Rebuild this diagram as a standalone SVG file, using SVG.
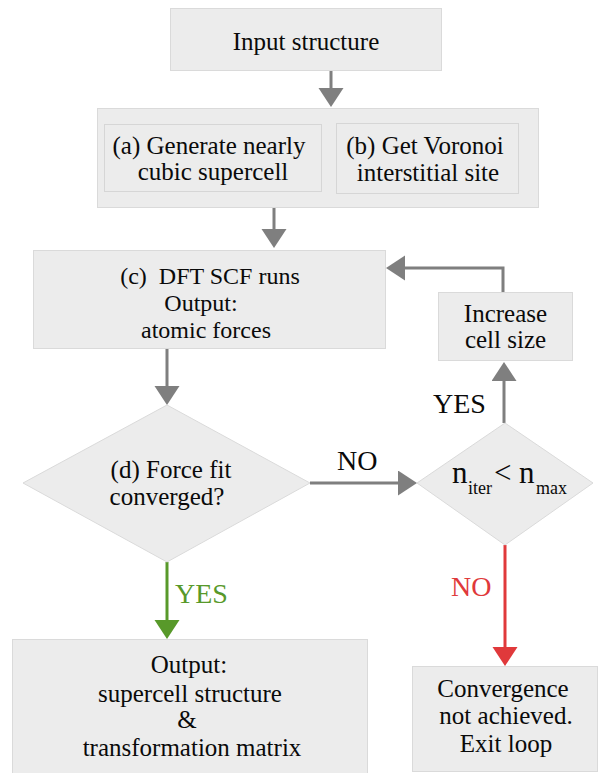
<svg xmlns="http://www.w3.org/2000/svg" width="600" height="773" viewBox="0 0 600 773">
  <style>
    .box { fill: #ececec; stroke: #dadada; stroke-width: 1; }
    .inner { fill: #ececec; stroke: #d6d6d6; stroke-width: 1; }
    .lbl { font-family: 'Liberation Serif', 'Times New Roman', serif; font-size: 25px; fill: #0a0a0a; text-anchor: middle; }
    .tight { font-size: 24px; }
    .edge { fill: none; stroke-width: 3; }
    .gray { stroke: #7f7f7f; }
    .green { stroke: #58992a; }
    .red { stroke: #e0393b; }
    .yn { font-family: 'Liberation Serif', 'Times New Roman', serif; font-size: 28px; }
  </style>
  <defs>
    <marker id="headGray" markerUnits="userSpaceOnUse" markerWidth="20" markerHeight="26" refX="0" refY="12.5" orient="auto" viewBox="0 0 20 26">
      <path d="M0,0 L19,12.5 L0,25 Z" fill="#7f7f7f"/>
    </marker>
    <marker id="headGreen" markerUnits="userSpaceOnUse" markerWidth="20" markerHeight="26" refX="0" refY="12.5" orient="auto" viewBox="0 0 20 26">
      <path d="M0,0 L19,12.5 L0,25 Z" fill="#58992a"/>
    </marker>
    <marker id="headRed" markerUnits="userSpaceOnUse" markerWidth="20" markerHeight="26" refX="0" refY="12.5" orient="auto" viewBox="0 0 20 26">
      <path d="M0,0 L19,12.5 L0,25 Z" fill="#e0393b"/>
    </marker>
  </defs>

  <rect width="600" height="773" fill="#ffffff"/>

  <!-- connectors and their branch labels -->
  <g id="connectors">
    <path class="edge gray" d="M331,71 V88" marker-end="url(#headGray)"/>
    <path class="edge gray" d="M274,208 V229" marker-end="url(#headGray)"/>
    <path class="edge gray" d="M167,349 V386" marker-end="url(#headGray)"/>
    <path class="edge gray" d="M310,483 H398" marker-end="url(#headGray)"/>
    <path class="edge gray" d="M504,423 V381" marker-end="url(#headGray)"/>
    <path class="edge gray" d="M503,292 V268 H405" marker-end="url(#headGray)"/>
    <path class="edge green" d="M167,562 V620" marker-end="url(#headGreen)"/>
    <path class="edge red" d="M505,545 V647" marker-end="url(#headRed)"/>
    <text class="yn" x="337" y="470" fill="#0a0a0a">NO</text>
    <text class="yn" x="433" y="413" fill="#0a0a0a">YES</text>
    <text class="yn" x="175" y="603" fill="#58992a">YES</text>
    <text class="yn" x="451" y="596" fill="#e0393b">NO</text>
  </g>

  <g id="input">
    <rect class="box" x="170.5" y="8.5" width="271" height="62"/>
    <text class="lbl" x="306" y="50">Input structure</text>
  </g>

  <g id="setup">
    <rect class="box" x="97.5" y="108.5" width="441" height="99"/>
    <g id="supercell">
      <rect class="inner" x="104.5" y="124.5" width="217" height="67"/>
      <text class="lbl" x="209" y="154">(a) Generate nearly</text>
      <text class="lbl" x="213" y="180">cubic supercell</text>
    </g>
    <g id="voronoi">
      <rect class="inner" x="336.5" y="123.5" width="182" height="70"/>
      <text class="lbl" x="425" y="154">(b) Get Voronoi</text>
      <text class="lbl" x="428" y="181">interstitial site</text>
    </g>
  </g>

  <g id="dft">
    <rect class="box" x="33.5" y="250.5" width="352" height="98"/>
    <text class="lbl tight" x="210" y="284" xml:space="preserve">(c)  DFT SCF runs</text>
    <text class="lbl tight" x="201" y="311">Output:</text>
    <text class="lbl tight" x="206" y="338">atomic forces</text>
  </g>

  <g id="increase">
    <rect class="box" x="438.5" y="292.5" width="134" height="68"/>
    <text class="lbl" x="505.5" y="322">Increase</text>
    <text class="lbl" x="505.5" y="348">cell size</text>
  </g>

  <g id="forcefit">
    <polygon class="box" points="167,405 310,483 167,562 23,483"/>
    <text class="lbl" x="171" y="478">(d) Force fit</text>
    <text class="lbl" x="167" y="505">converged?</text>
  </g>

  <g id="iterations">
    <polygon class="box" points="505,423 593,483 505,545 417,483"/>
    <text style="font-family: 'Liberation Serif', 'Times New Roman', serif;" fill="#0a0a0a">
      <tspan x="452" y="483" font-size="31">n</tspan><tspan x="468" y="494" font-size="18">iter</tspan><tspan x="494" y="483" font-size="31">&lt;</tspan><tspan x="519" y="483" font-size="31">n</tspan><tspan x="536" y="494" font-size="18">max</tspan>
    </text>
  </g>

  <g id="result">
    <rect class="box" x="12.5" y="639.5" width="355" height="150"/>
    <text class="lbl" x="189" y="673">Output:</text>
    <text class="lbl" x="190" y="702">supercell structure</text>
    <text class="lbl" x="187" y="728">&amp;</text>
    <text class="lbl" x="192" y="756">transformation matrix</text>
  </g>

  <g id="exit">
    <rect class="box" x="412.5" y="666.5" width="185" height="105"/>
    <text class="lbl" x="503" y="697">Convergence</text>
    <text class="lbl" x="506" y="724">not achieved.</text>
    <text class="lbl" x="506" y="752">Exit loop</text>
  </g>
</svg>
